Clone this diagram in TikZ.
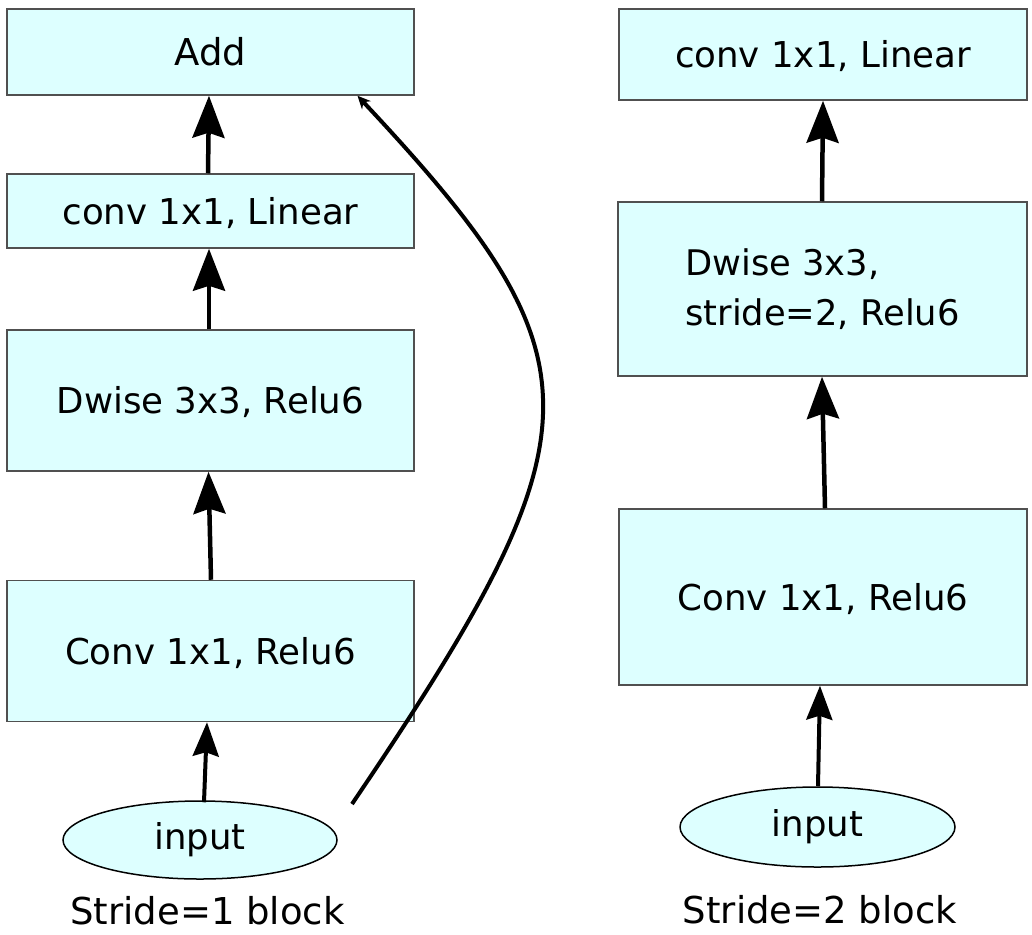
\documentclass[tikz,border=0pt]{standalone}
\usepackage{fontspec}
\setmainfont{DejaVu Sans}
\usetikzlibrary{arrows.meta,shapes.geometric}
\definecolor{boxfill}{HTML}{DDFFFF}
\definecolor{boxline}{HTML}{505050}
\begin{document}
\begin{tikzpicture}[x=1pt,y=-1pt,
 blk/.style={draw=boxline,line width=1.5pt,fill=boxfill,rectangle,inner sep=0pt,minimum width=407pt,font=\fontsize{35.6}{50}\selectfont,text height=26pt,text depth=0pt},
 blkml/.style={draw=boxline,line width=1.5pt,fill=boxfill,rectangle,inner sep=0pt,minimum width=409pt,font=\fontsize{35.3}{50}\selectfont,align=left},
 inp/.style={draw=black,line width=1.5pt,fill=boxfill,ellipse,inner sep=0pt,minimum width=274pt,minimum height=78pt,font=\fontsize{35.5}{40}\selectfont},
 capt/.style={font=\fontsize{37}{44}\selectfont,anchor=base,inner sep=0pt},
 arr/.style={line width=4.5pt,-{Stealth[length=42pt,width=32pt,inset=5pt]}},
 arrsm/.style={line width=4pt,-{Stealth[length=34pt,width=26pt,inset=4pt]}},
 skip/.style={line width=4pt,-{Stealth[length=13pt,width=12pt]}},
]
\useasboundingbox (0,0) rectangle (1032,934);

% left column: stride 1
\node[blk,minimum height=86pt,font=\fontsize{37}{44}\selectfont,text height=27pt] (add) at (210.5,52) {Add};
\node[blk,minimum height=74pt] (lin1) at (210.5,211) {conv 1x1, Linear};
\node[blk,minimum height=141pt] (dw1) at (210.5,400.5) {Dwise 3x3, Relu6};
\node[blk,minimum height=141pt] (cv1) at (210.5,651) {Conv 1x1, Relu6};
\node[inp] (in1) at (200,840) {input};
\node[capt] (lab1) at (207.5,924) {Stride=1 block};

% right column: stride 2
\node[blk,minimum width=408pt,minimum height=91pt] (lin2) at (823,54.5) {conv 1x1, Linear};
\node[blkml,minimum height=174pt] (dw2) at (822.5,289) {Dwise 3x3,\\stride=2, Relu6};
\node[blk,minimum width=408pt,minimum height=176pt] (cv2) at (823,597) {Conv 1x1, Relu6};
\node[inp,minimum width=275pt,minimum height=80pt] (in2) at (817.5,827) {input};
\node[capt] (lab2) at (820,923) {Stride=2 block};

% arrows left
\draw[arrsm] ([xshift=4pt,yshift=-2pt]in1.north) -- ([xshift=-3.5pt]cv1.south);
\draw[arr] ([xshift=0.5pt]cv1.north) -- ([xshift=-2pt]dw1.south);
\draw[arr] ([xshift=-1.5pt]dw1.north) -- ([xshift=-1.5pt]lin1.south);
\draw[arr] ([xshift=-2.5pt]lin1.north) -- ([xshift=-1.5pt]add.south);

% arrows right
\draw[arrsm] ([xshift=0.5pt]in2.north) -- ([xshift=-3pt]cv2.south);
\draw[arr] ([xshift=2pt]cv2.north) -- ([xshift=-0.5pt]dw2.south);
\draw[arr] ([xshift=-0.5pt]dw2.north) -- ([xshift=0pt]lin2.south);

% shortcut
\coordinate (sk) at (352,804);
\coordinate (ske) at ([xshift=147pt]add.south);
\draw[skip] (sk) .. controls (605,430) and (605,360) .. (ske);
\end{tikzpicture}
\end{document}
